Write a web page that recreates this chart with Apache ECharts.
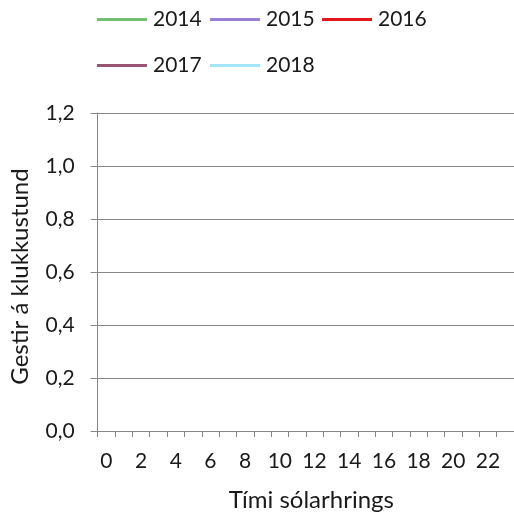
<!DOCTYPE html>
<html>
<head>
<meta charset="utf-8">
<script src="https://cdn.jsdelivr.net/npm/echarts@6/dist/echarts.min.js"></script>
<style>
html,body{margin:0;padding:0;background:#fff;}
#chart{width:514px;height:517px;}
</style>
</head>
<body>
<div id="chart"></div>
<script>
const hours = ['0','1','2','3','4','5','6','7','8','9','10','11','12','13','14','15','16','17','18','19','20','21','22','23'];
const seriesNames = ['2014','2015','2016','2017','2018'];
const values2014 = [];
const values2015 = [];
const values2016 = [];
const values2017 = [];
const values2018 = [];
const seriesColors = ['#72c072','#9a7fd6','#e3171b','#9a5474','#a3e6fc'];
const yMin = 0, yMax = 1.2, yStep = 0.2;

const FONT = 'Lato';
const TXT = '#1a1a1a';
const AX = '#868686';
const allValues = [values2014, values2015, values2016, values2017, values2018];

const legendPos = [
  {left: 97, top: 9},
  {left: 210, top: 9},
  {left: 322, top: 9},
  {left: 97, top: 55},
  {left: 210, top: 55}
];

const chart = echarts.init(document.getElementById('chart'), null, {renderer: 'canvas'});
chart.setOption({
  animation: false,
  backgroundColor: '#fff',
  legend: seriesNames.map((n, i) => ({
    data: [n],
    left: legendPos[i].left,
    top: legendPos[i].top,
    icon: 'rect',
    itemWidth: 50,
    itemHeight: 3,
    itemGap: 6,
    padding: 0,
    textStyle: {fontFamily: FONT, fontSize: 21, color: TXT, padding: [0, 0, 0, 1]}
  })),
  grid: {left: 97.7, right: 0, top: 113, bottom: 86, containLabel: false},
  xAxis: {
    type: 'category',
    data: hours,
    boundaryGap: true,
    name: 'Tími sólarhrings',
    nameLocation: 'middle',
    nameGap: 57,
    nameTextStyle: {fontFamily: FONT, fontSize: 24, color: TXT, padding: [0, 0, 0, 11]},
    axisLine: {show: true, lineStyle: {color: AX, width: 1}},
    axisTick: {show: true, interval: 0, length: 6, lineStyle: {color: AX}},
    axisLabel: {interval: 1, margin: 20, fontFamily: FONT, fontSize: 21, color: TXT},
    splitLine: {show: false}
  },
  yAxis: {
    type: 'value',
    min: yMin,
    max: yMax,
    interval: yStep,
    name: 'Gestir á klukkustund',
    nameLocation: 'middle',
    nameGap: 65,
    nameTextStyle: {fontFamily: FONT, fontSize: 24, color: TXT, padding: [0, 9, 0, 0]},
    axisLine: {show: true, lineStyle: {color: AX, width: 1}},
    axisTick: {show: true, length: 7, lineStyle: {color: AX}},
    axisLabel: {
      margin: 23, fontFamily: FONT, fontSize: 21, color: TXT,
      formatter: v => v.toFixed(1).replace('.', ',')
    },
    splitLine: {show: true, lineStyle: {color: AX, width: 1}}
  },
  series: seriesNames.map((n, i) => ({
    name: n,
    type: 'line',
    data: allValues[i],
    symbol: 'none',
    lineStyle: {color: seriesColors[i], width: 3},
    itemStyle: {color: seriesColors[i]}
  }))
});
</script>
</body>
</html>
